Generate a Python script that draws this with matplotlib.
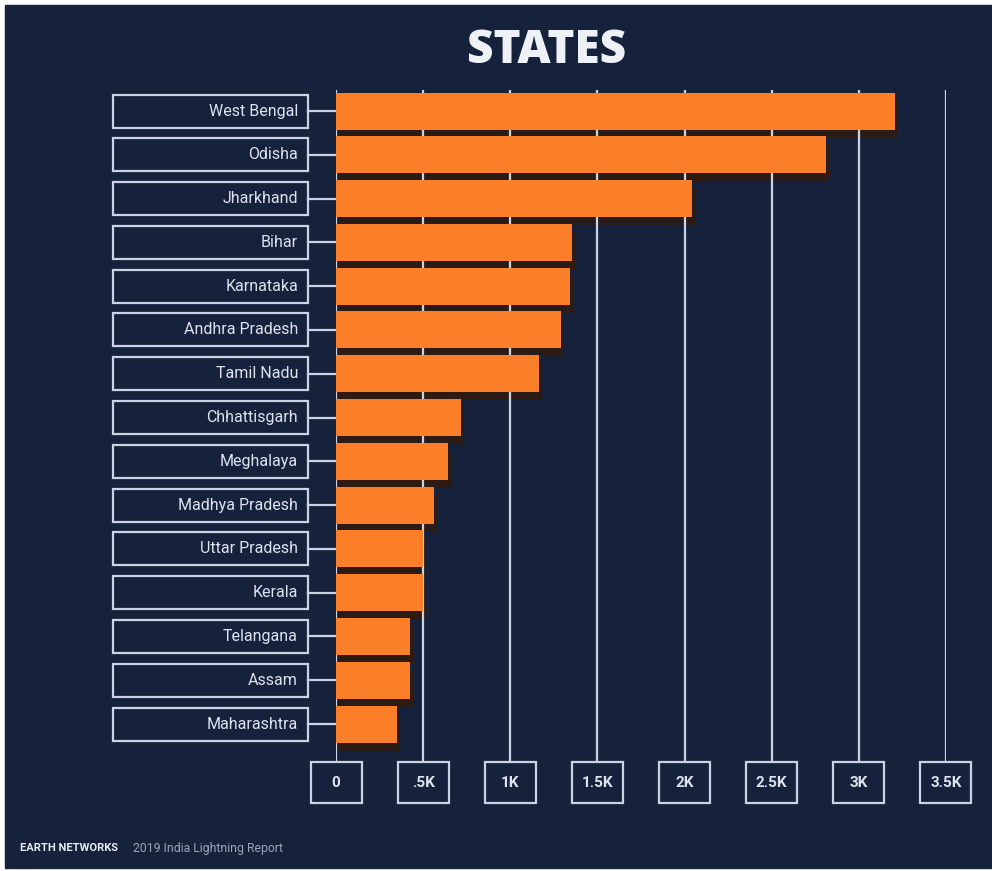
import matplotlib.pyplot as plt
from matplotlib.patches import Rectangle
import matplotlib.transforms as mtransforms

states = ['West Bengal', 'Odisha', 'Jharkhand', 'Bihar', 'Karnataka',
          'Andhra Pradesh', 'Tamil Nadu', 'Chhattisgarh', 'Meghalaya',
          'Madhya Pradesh', 'Uttar Pradesh', 'Kerala', 'Telangana', 'Assam',
          'Maharashtra']
# values in thousands
counts = [3.21, 2.81, 2.04, 1.355, 1.345, 1.29, 1.165, 0.72, 0.64, 0.56,
          0.50, 0.50, 0.425, 0.425, 0.35]
ticks = [0, 0.5, 1, 1.5, 2, 2.5, 3, 3.5]
tick_labels = ['0', '.5K', '1K', '1.5K', '2K', '2.5K', '3K', '3.5K']

W, H = 992, 871
navy = '#16223c'
orange = '#fb7f28'
shadow = '#2c1a14'
line_c = '#c9d3e4'
text_c = '#dde3ee'

fig = plt.figure(figsize=(W / 100, H / 100), dpi=100)
fig.patch.set_facecolor('white')
# navy panel with a thin white margin on the left/top/bottom
fig.patches.append(Rectangle((5 / W, 3 / H), 1 - 5 / W, 863 / H,
                             transform=fig.transFigure, color=navy, zorder=-10))

# axes: x=0 at px 336, x=3.5 at px 946; rows 111..724 px from top
ax_l, ax_r = 336, 946
ax_t, ax_b = 90, 762
ax = fig.add_axes([ax_l / W, (H - ax_b) / H, (ax_r - ax_l) / W, (ax_b - ax_t) / H])
ax.set_facecolor('none')
row = 43.79
ax.set_xlim(0, 3.5)
ax.set_ylim((ax_b - 111) / row, (ax_t - 111) / row)
ax.axis('off')

y = list(range(len(states)))
bh = 37 / row
px_x = 3.5 / (ax_r - ax_l)

# drop shadow, grid, bars
ax.barh([v + 8 / row for v in y], [c + 3 * px_x for c in counts], height=bh,
        color=shadow, zorder=1)
for t in ticks:
    ax.axvline(t, 0, 1, color=line_c, lw=1.6, zorder=2)
ax.barh(y, counts, height=bh, color=orange, zorder=3)

# state label boxes
trans_y = mtransforms.blended_transform_factory(ax.transAxes, ax.transData)
bx0 = (113 - ax_l) / (ax_r - ax_l)
bx1 = (308 - ax_l) / (ax_r - ax_l)
boxh = 33 / row
for yi, name in zip(y, states):
    ax.add_patch(Rectangle((bx0, yi - boxh / 2), bx1 - bx0, boxh, transform=trans_y,
                           fill=False, edgecolor=line_c, lw=1.6, clip_on=False))
    ax.plot([bx1, 0], [yi, yi], transform=trans_y, color=line_c, lw=1.6,
            clip_on=False)
    ax.text(bx1 - 10 / (ax_r - ax_l), yi, name, transform=trans_y, ha='right',
            va='center', color=text_c, fontsize=11.5,
            family=['Liberation Sans Narrow', 'Roboto', 'DejaVu Sans'])

# tick label boxes
trans_x = mtransforms.blended_transform_factory(ax.transData, ax.transAxes)
tw = 51 * px_x
th = 41 / (ax_b - ax_t)
for t, lab in zip(ticks, tick_labels):
    ax.add_patch(Rectangle((t - tw / 2, -th), tw, th, transform=trans_x,
                           fill=False, edgecolor=line_c, lw=1.6, clip_on=False))
    ax.text(t, -th / 2, lab, transform=trans_x, ha='center', va='center',
            color=text_c, fontsize=11, fontweight='bold', family='Roboto')

fig.text(547 / W, 1 - 51 / H, 'STATES', ha='center', va='center',
         color='#eef1f6', fontsize=33, fontweight='heavy', family='Open Sans')
fig.text(20 / W, 1 - 848 / H, 'EARTH NETWORKS', ha='left', va='center',
         color='#e6eaf1', fontsize=8, fontweight='bold', family='Roboto')
fig.text(133 / W, 1 - 848 / H, '2019 India Lightning Report', ha='left',
         va='center', color='#9aa4b8', fontsize=8.8, family='Roboto')

fig.savefig('out.png', dpi=100, facecolor=fig.get_facecolor())
